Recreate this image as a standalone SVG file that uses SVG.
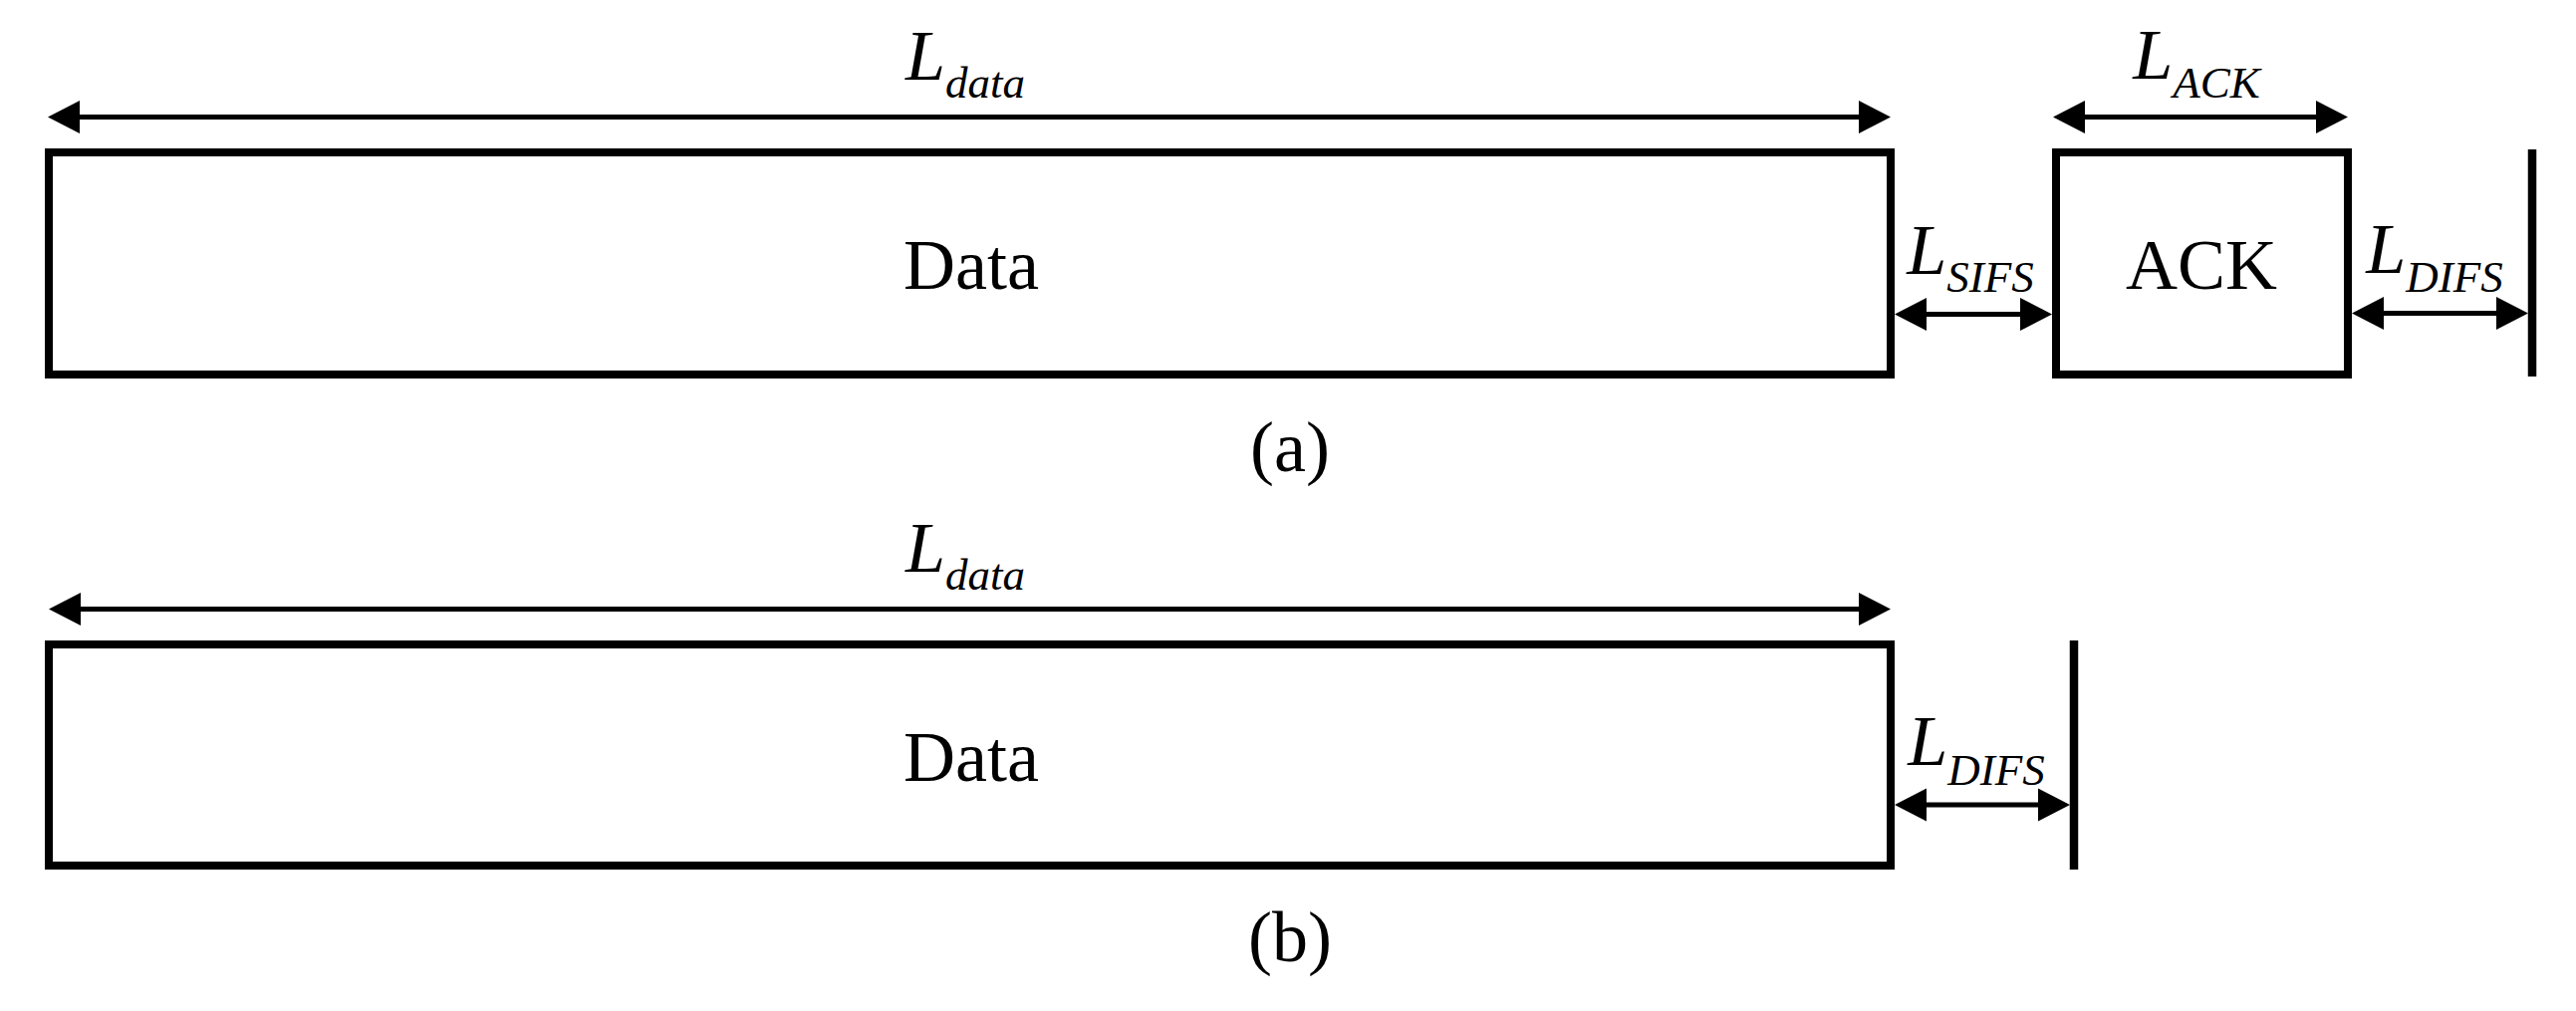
<svg xmlns="http://www.w3.org/2000/svg" width="2586" height="1015" viewBox="0 0 2586 1015">
<style>
.box{fill:#fff;stroke:#000;stroke-width:8}
.bar{stroke:#000;stroke-width:8.5;fill:none}
.dim{stroke:#000;stroke-width:5;fill:none;marker-start:url(#ah);marker-end:url(#ah)}
.t{font-family:"Liberation Serif","Times New Roman",serif;font-size:72px;fill:#000;text-anchor:middle}
.i{font-style:italic}
.sub{font-size:45px}
</style>
<defs>
<marker id="ah" markerUnits="userSpaceOnUse" markerWidth="32" markerHeight="34" refX="22" refY="16.5" orient="auto-start-reverse" viewBox="0 0 32 33">
<path d="M0,0 L32,16.5 L0,33 z" fill="#000"/>
</marker>
</defs>
<rect width="2586" height="1015" fill="#fff"/>
<g id="connectors">
<line class="dim" x1="58" y1="117.5" x2="1888" y2="117.5"/>
<line class="dim" x1="2071" y1="117.5" x2="2347" y2="117.5"/>
<line class="dim" x1="1912" y1="315.5" x2="2050" y2="315.5"/>
<line class="dim" x1="2371" y1="314.5" x2="2528" y2="314.5"/>
<line class="dim" x1="59" y1="611.5" x2="1888" y2="611.5"/>
<line class="dim" x1="1912" y1="808" x2="2068" y2="808"/>
</g>
<g id="data-a">
<rect class="box" x="49" y="153" width="1849" height="223"/>
<text class="t" x="975" y="290">Data</text>
</g>
<g id="ack-a">
<rect class="box" x="2064" y="153" width="293" height="223"/>
<text class="t" x="2210" y="290">ACK</text>
</g>
<g id="end-a">
<line class="bar" x1="2542" y1="150" x2="2542" y2="378"/>
</g>
<g id="labels-a">
<text class="t i" x="969" y="80">L<tspan class="sub" dy="18">data</tspan></text>
<text class="t i" x="2205" y="79">L<tspan class="sub" dy="19">ACK</tspan></text>
<text class="t i" x="1978" y="275">L<tspan class="sub" dy="18">SIFS</tspan></text>
<text class="t i" x="2444" y="274">L<tspan class="sub" dy="19">DIFS</tspan></text>
<text class="t" x="1295" y="473">(a)</text>
</g>
<g id="data-b">
<rect class="box" x="49" y="647" width="1849" height="222"/>
<text class="t" x="975" y="784">Data</text>
</g>
<g id="end-b">
<line class="bar" x1="2082" y1="643" x2="2082" y2="873"/>
</g>
<g id="labels-b">
<text class="t i" x="969" y="574">L<tspan class="sub" dy="18">data</tspan></text>
<text class="t i" x="1984" y="768">L<tspan class="sub" dy="20">DIFS</tspan></text>
<text class="t" x="1295" y="965">(b)</text>
</g>
</svg>
